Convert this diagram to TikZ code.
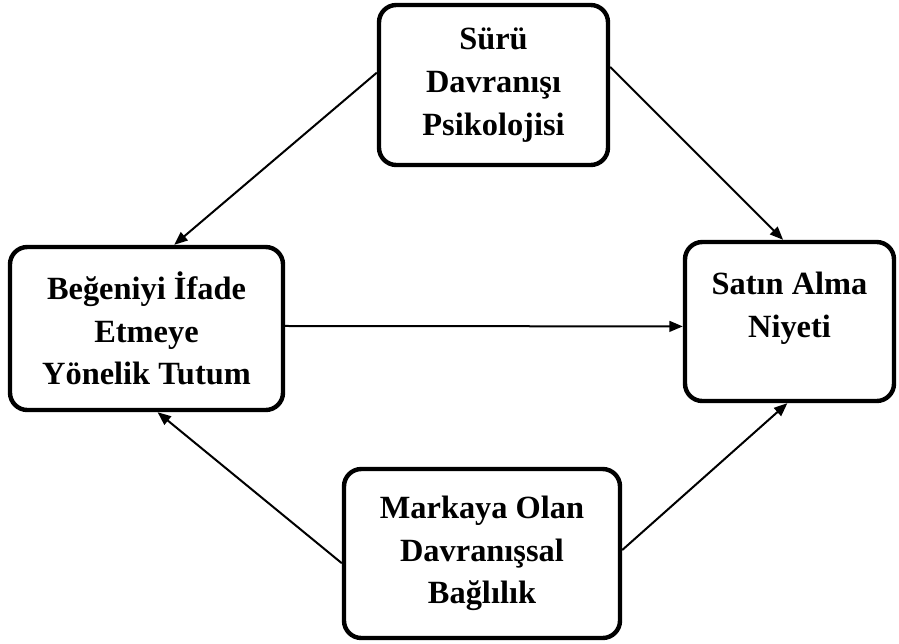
\documentclass[tikz,border=0pt]{standalone}
\usepackage{fontspec}
\setmainfont{Liberation Serif}
\usetikzlibrary{calc,arrows.meta}

\begin{document}
\begin{tikzpicture}[x=0.75pt,y=-0.75pt,
  box/.style={draw,line width=3.3pt,rounded corners=13pt,align=center,inner sep=0pt,
    font=\fontsize{24.3pt}{32pt}\selectfont\bfseries},
  arr/.style={-{Triangle[length=10pt,width=8pt]},line width=1.5pt}]
  \useasboundingbox (0,0) rectangle (899,643);
  \node[box,minimum width=171.75pt,minimum height=120pt] (suru) at (493.5,85) {Sürü\\Davranışı\\Psikolojisi};
  \node[box,minimum width=204.75pt,minimum height=122.25pt] (begeni) at (146.5,328.5) {Beğeniyi İfade\\Etmeye\\Yönelik Tutum};
  \node[box,minimum width=156.75pt,minimum height=119.25pt,text depth=25pt] (niyet) at (789.5,321.5) {Satın Alma\\Niyeti};
  \node[box,minimum width=207pt,minimum height=126.75pt] (marka) at (482,553.5) {Markaya Olan\\Davranışsal\\Bağlılık};
  % connectors
  \draw[arr] ($(suru.north west)!0.425!(suru.south west)$) -- ($(begeni.north west)!0.6!(begeni.north east)$);
  \draw[arr] ($(suru.north east)!0.39!(suru.south east)$) -- ($(niyet.north west)!0.47!(niyet.north east)$);
  \draw[arr] ($(begeni.north east)!0.485!(begeni.south east)$) -- ($(niyet.north west)!0.53!(niyet.south west)$);
  \draw[arr] ($(marka.north west)!0.556!(marka.south west)$) -- ($(begeni.south west)!0.54!(begeni.south east)$);
  \draw[arr] ($(marka.north east)!0.48!(marka.south east)$) -- ($(niyet.south west)!0.49!(niyet.south east)$);
\end{tikzpicture}
\end{document}
